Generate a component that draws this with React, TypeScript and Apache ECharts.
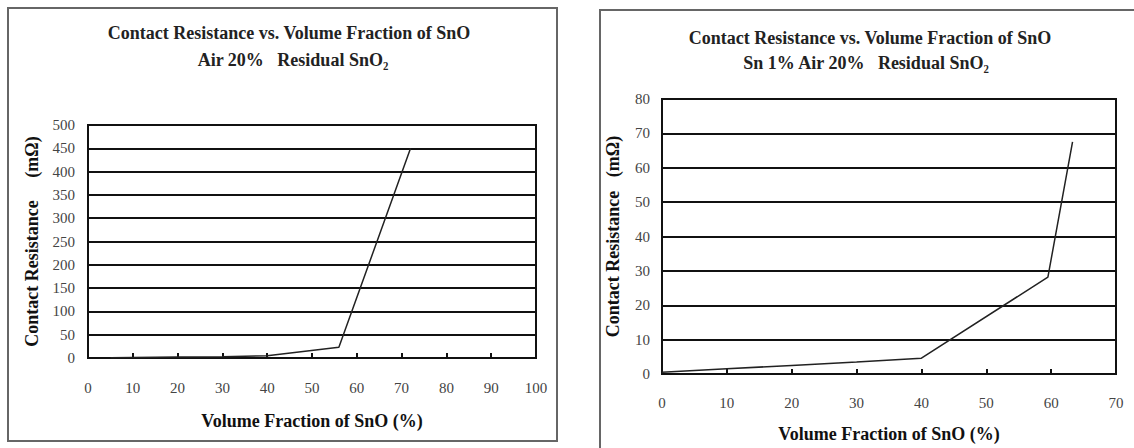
import React, { useEffect, useRef } from "react";
import * as echarts from "echarts";

const leftX = [5, 10, 20, 30, 40, 56, 72];
const leftY = [0.5, 1, 2, 2.5, 5, 23, 450];
const rightX = [0, 10, 20, 30, 40, 59.5, 63.3];
const rightY = [0.5, 1.5, 2.5, 3.5, 4.6, 28.2, 67.5];

const leftTitle = "Contact Resistance vs. Volume Fraction of SnO";
const leftSub = "Air 20%   Residual SnO\u2082";
const rightTitle = "Contact Resistance vs. Volume Fraction of SnO";
const rightSub = "Sn 1% Air 20%   Residual SnO\u2082";
const xName = "Volume Fraction of SnO (%)";
const yNameLeft = "Contact Resistance     (m\u03A9)";
const yNameRight = "Contact Resistance   (m\u03A9)";

const FONT = "'Liberation Serif', 'Times New Roman', serif";

export default function App() {
  const ref = useRef<HTMLDivElement>(null);
  useEffect(() => {
    if (!ref.current) return;
    const chart = echarts.init(ref.current, undefined, { renderer: "svg" });
    const titleStyle = { fontFamily: FONT, fontSize: 18, fontWeight: "bold", color: "#222" };
    const axisCommon = {
      axisLine: { show: true, lineStyle: { color: "#111", width: 2 } },
      axisLabel: { color: "#444", fontFamily: FONT, fontSize: 15 },
      nameTextStyle: { color: "#111", fontFamily: FONT, fontSize: 18, fontWeight: "bold" },
      nameLocation: "middle",
    };
    chart.setOption({
      animation: false,
      backgroundColor: "#fff",
      title: [
        { text: leftTitle, left: 289, top: 24, padding: 0, textAlign: "center", textStyle: titleStyle },
        { text: leftSub, left: 293, top: 51, padding: 0, textAlign: "center", textStyle: titleStyle },
        { text: rightTitle, left: 870, top: 29, padding: 0, textAlign: "center", textStyle: titleStyle },
        { text: rightSub, left: 866, top: 54, padding: 0, textAlign: "center", textStyle: titleStyle },
      ],
      graphic: [
        { type: "rect", shape: { x: 8, y: 8, width: 549, height: 433 }, style: { fill: "none", stroke: "#666", lineWidth: 2 }, silent: true },
        { type: "rect", shape: { x: 600, y: 10, width: 560, height: 460 }, style: { fill: "none", stroke: "#666", lineWidth: 2 }, silent: true },
      ],
      grid: [
        { left: 88, right: 598, top: 125, bottom: 90, show: true, borderColor: "#111", borderWidth: 2 },
        { left: 662, right: 18, top: 99, bottom: 71, show: true, borderColor: "#111", borderWidth: 2 },
      ],
      xAxis: [
        {
          ...axisCommon, type: "value", gridIndex: 0, min: 0, max: 100, interval: 10,
          name: xName, nameGap: 54,
          axisTick: { show: true, inside: true, length: 5, lineStyle: { color: "#111", width: 2 } },
          axisLabel: { ...axisCommon.axisLabel, margin: 22 },
          splitLine: { show: false },
        },
        {
          ...axisCommon, type: "value", gridIndex: 1, min: 0, max: 70, interval: 10,
          name: xName, nameGap: 51,
          axisTick: { show: true, inside: true, length: 5, lineStyle: { color: "#111", width: 2 } },
          axisLabel: { ...axisCommon.axisLabel, margin: 21 },
          splitLine: { show: false },
        },
      ],
      yAxis: [
        {
          ...axisCommon, type: "value", gridIndex: 0, min: 0, max: 500, interval: 50,
          name: yNameLeft, nameGap: 47, nameRotate: 90,
          axisTick: { show: false },
          axisLabel: { ...axisCommon.axisLabel, margin: 13 },
          splitLine: { show: true, lineStyle: { color: "#111", width: 2 } },
        },
        {
          ...axisCommon, type: "value", gridIndex: 1, min: 0, max: 80, interval: 10,
          name: yNameRight, nameGap: 40, nameRotate: 90,
          axisTick: { show: false },
          axisLabel: { ...axisCommon.axisLabel, margin: 12 },
          splitLine: { show: true, lineStyle: { color: "#111", width: 2 } },
        },
      ],
      series: [
        {
          type: "line", xAxisIndex: 0, yAxisIndex: 0, showSymbol: false, symbol: "none",
          data: leftX.map((x, i) => [x, leftY[i]]),
          lineStyle: { color: "#222", width: 1.5 },
        },
        {
          type: "line", xAxisIndex: 1, yAxisIndex: 1, showSymbol: false, symbol: "none",
          data: rightX.map((x, i) => [x, rightY[i]]),
          lineStyle: { color: "#222", width: 1.5 },
        },
      ],
    });
    return () => chart.dispose();
  }, []);
  return (
    <div
      ref={ref}
      style={{ position: "fixed", left: 0, top: 0, width: 1134, height: 448, background: "#fff" }}
    />
  );
}
